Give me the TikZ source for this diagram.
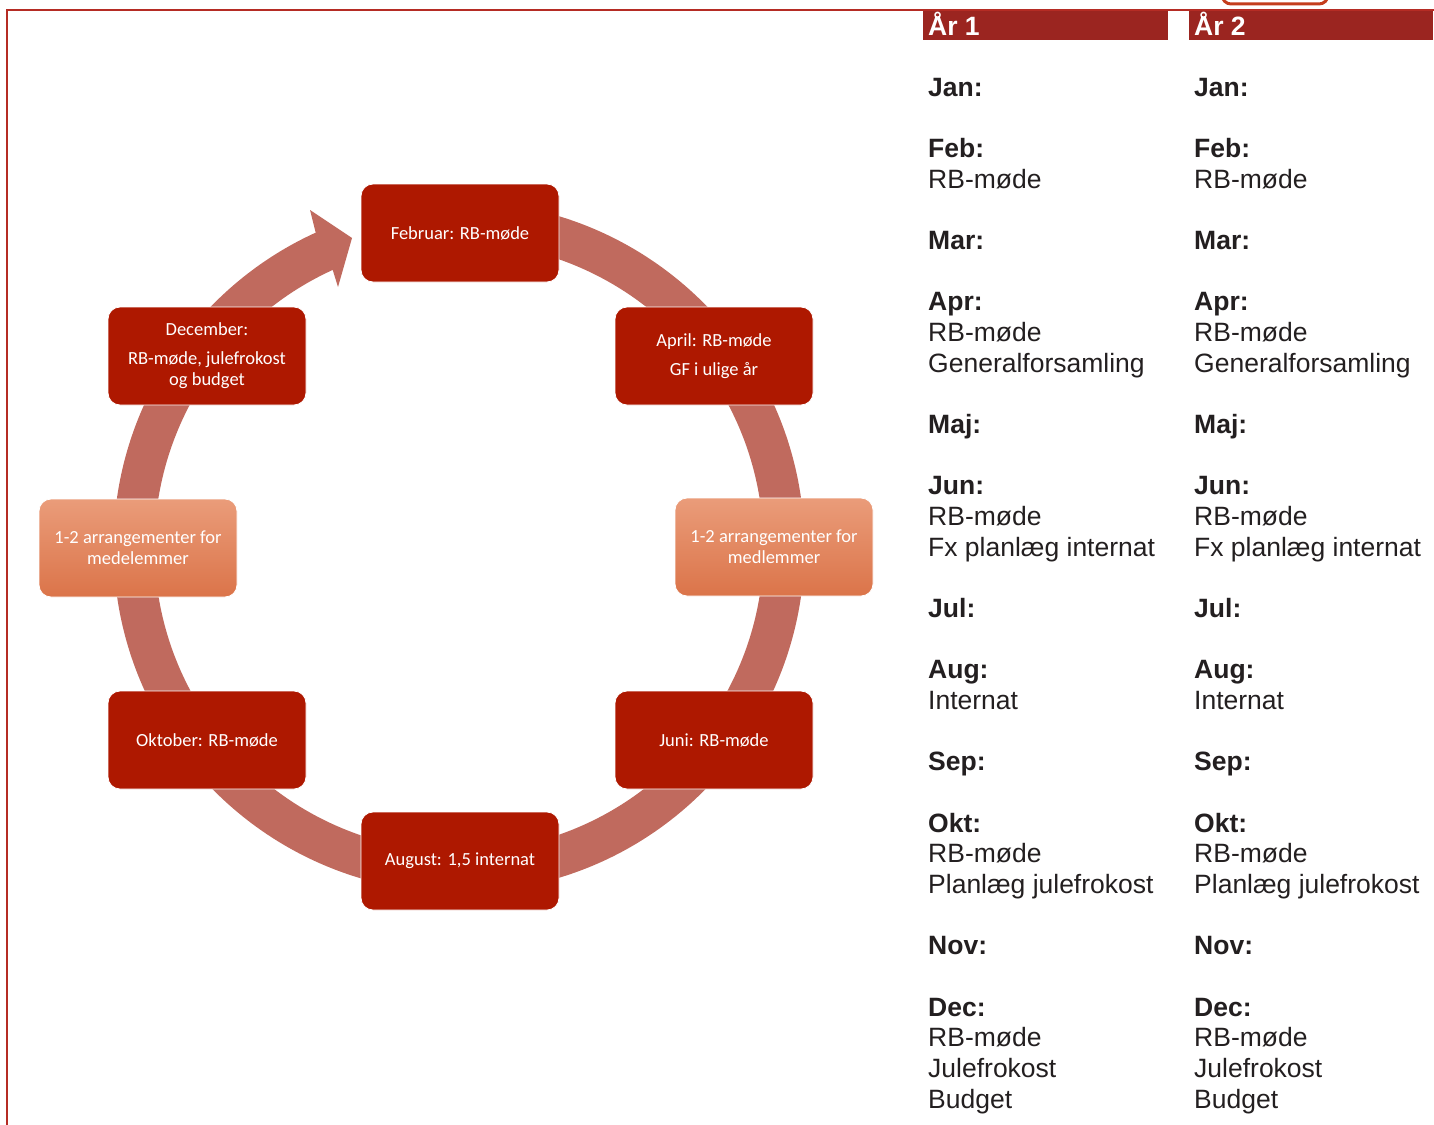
\documentclass[tikz,border=0pt]{standalone}
\usepackage{fontspec}
\setmainfont{Liberation Sans}
\newfontfamily\calib{Carlito}
\definecolor{nodered}{HTML}{AE1800}
\definecolor{ringc}{HTML}{C06A5E}
\definecolor{orT}{HTML}{EA9C7A}
\definecolor{orB}{HTML}{DB7449}
\definecolor{barred}{HTML}{9B2520}
\definecolor{framec}{HTML}{B52C24}
\definecolor{tabtxt}{HTML}{231F20}
\begin{document}
\begin{tikzpicture}[x=1pt,y=-1pt,
  box/.style={rounded corners=12pt, minimum width=198pt, minimum height=98pt, align=center, text=white, font=\calib\fontsize{18.5}{21}\selectfont, inner sep=4pt, draw=white, line width=0.8pt},
  redbox/.style={box, fill=nodered},
  orbox/.style={box, top color=orT, bottom color=orB},
  tbl/.style={anchor=base west, inner sep=0pt, font=\fontsize{26.5}{30}\selectfont, text=tabtxt},
  hdr/.style={anchor=base west, inner sep=0pt, font=\bfseries\fontsize{26.5}{30}\selectfont, text=white},
  bar/.style={fill=barred, draw=none},
  ring/.style={draw=ringc, line width=41pt, line cap=butt}]
\useasboundingbox (0,0) rectangle (1434,1124);
% frame
\draw[framec, line width=1.6pt] (7,1130) -- (7,10) -- (1440,10);
\draw[draw=framec!80!orange, line width=3pt, fill=white, rounded corners=9pt] (1222,-30) rectangle (1328,4);
% ring
\draw[ring] (430.67,223.24) arc[start angle=-95, end angle=246.5, radius=325];
\fill[ringc] (315.7,232.6) -- (310,210) -- (352,238) -- (338,287) -- (332.7,269.9) -- cycle;
% boxes
\node[redbox] (feb) at (460,233) {Februar: RB-møde};
\node[redbox] (apr) at (714,356) {April: RB-møde\\[8pt]GF i ulige år};
\node[redbox] (dec) at (207,356) {December:\\[8pt]RB-møde, julefrokost\\og budget};
\node[orbox] (arrL) at (138,548) {1-2 arrangementer for\\medelemmer};
\node[orbox] (arrR) at (774,547) {1-2 arrangementer for\\medlemmer};
\node[redbox] (okt) at (207,740) {Oktober: RB-møde};
\node[redbox] (jun) at (714,740) {Juni: RB-møde};
\node[redbox] (aug) at (460,861) {August: 1,5 internat};
% table headers
\fill[bar] (923,11) rectangle (1168,40);
\fill[bar] (1189,11) rectangle (1433,40);
\node[hdr] (h1) at (928,35.5) {År 1};
\node[hdr] (h2) at (1194,35.5) {År 2};
% table text
\foreach \c [count=\k] in {928,1194}{
  \foreach \i/\t in {0/\textbf{Jan:},2/\textbf{Feb:},3/RB-møde,5/\textbf{Mar:},7/\textbf{Apr:},8/RB-møde,9/Generalforsamling,11/\textbf{Maj:},13/\textbf{Jun:},14/RB-møde,15/Fx planlæg internat,17/\textbf{Jul:},19/\textbf{Aug:},20/Internat,22/\textbf{Sep:},24/\textbf{Okt:},25/RB-møde,26/Planlæg julefrokost,28/\textbf{Nov:},30/\textbf{Dec:},31/RB-møde,32/Julefrokost,33/Budget}{
    \node[tbl] (t\k-\i) at (\c,96+30.67*\i) {\t};
  }
}
\end{tikzpicture}
\end{document}
